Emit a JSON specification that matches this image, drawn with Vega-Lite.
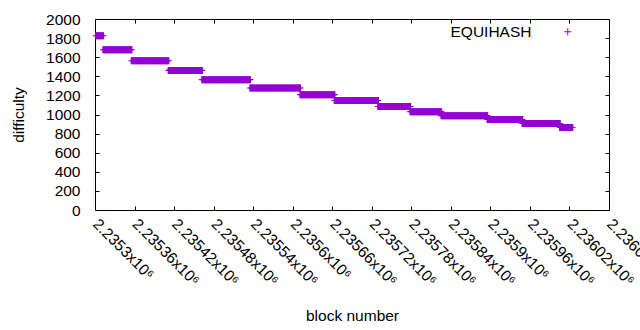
{
"$schema": "https://vega.github.io/schema/vega-lite/v6.json",
"width": 514, "height": 191,
"autosize": {"type": "none"},
"padding": {"left": 95, "top": 19, "right": 31, "bottom": 120},
"background": "white",
"config": {"view": {"stroke": null}, "font": "Liberation Sans"},
"datasets": {"pts": [
{"b":2235302,"d":1825},{"b":2235304,"d":1825},{"b":2235306,"d":1825},{"b":2235308,"d":1825},{"b":2235310,"d":1825},{"b":2235312,"d":1825},
{"b":2235313,"d":1678},{"b":2235315,"d":1678},{"b":2235317,"d":1678},{"b":2235319,"d":1678},{"b":2235321,"d":1678},{"b":2235323,"d":1678},{"b":2235325,"d":1678},{"b":2235327,"d":1678},{"b":2235329,"d":1678},{"b":2235331,"d":1678},{"b":2235333,"d":1678},{"b":2235335,"d":1678},{"b":2235337,"d":1678},{"b":2235339,"d":1678},{"b":2235341,"d":1678},{"b":2235343,"d":1678},{"b":2235345,"d":1678},{"b":2235347,"d":1678},{"b":2235349,"d":1678},{"b":2235351,"d":1678},{"b":2235353,"d":1678},{"b":2235355,"d":1678},
{"b":2235356,"d":1563},{"b":2235358,"d":1563},{"b":2235360,"d":1563},{"b":2235362,"d":1563},{"b":2235364,"d":1563},{"b":2235366,"d":1563},{"b":2235368,"d":1563},{"b":2235370,"d":1563},{"b":2235372,"d":1563},{"b":2235374,"d":1563},{"b":2235376,"d":1563},{"b":2235378,"d":1563},{"b":2235380,"d":1563},{"b":2235382,"d":1563},{"b":2235384,"d":1563},{"b":2235386,"d":1563},{"b":2235388,"d":1563},{"b":2235390,"d":1563},{"b":2235392,"d":1563},{"b":2235394,"d":1563},{"b":2235396,"d":1563},{"b":2235398,"d":1563},{"b":2235400,"d":1563},{"b":2235402,"d":1563},{"b":2235404,"d":1563},{"b":2235406,"d":1563},{"b":2235408,"d":1563},{"b":2235410,"d":1563},{"b":2235411,"d":1563},
{"b":2235412,"d":1462},{"b":2235414,"d":1462},{"b":2235416,"d":1462},{"b":2235418,"d":1462},{"b":2235420,"d":1462},{"b":2235422,"d":1462},{"b":2235424,"d":1462},{"b":2235426,"d":1462},{"b":2235428,"d":1462},{"b":2235430,"d":1462},{"b":2235432,"d":1462},{"b":2235434,"d":1462},{"b":2235436,"d":1462},{"b":2235438,"d":1462},{"b":2235440,"d":1462},{"b":2235442,"d":1462},{"b":2235444,"d":1462},{"b":2235446,"d":1462},{"b":2235448,"d":1462},{"b":2235450,"d":1462},{"b":2235452,"d":1462},{"b":2235454,"d":1462},{"b":2235456,"d":1462},{"b":2235458,"d":1462},{"b":2235460,"d":1462},{"b":2235462,"d":1462},
{"b":2235463,"d":1365},{"b":2235465,"d":1365},{"b":2235467,"d":1365},{"b":2235469,"d":1365},{"b":2235471,"d":1365},{"b":2235473,"d":1365},{"b":2235475,"d":1365},{"b":2235477,"d":1365},{"b":2235479,"d":1365},{"b":2235481,"d":1365},{"b":2235483,"d":1365},{"b":2235485,"d":1365},{"b":2235487,"d":1365},{"b":2235489,"d":1365},{"b":2235491,"d":1365},{"b":2235493,"d":1365},{"b":2235495,"d":1365},{"b":2235497,"d":1365},{"b":2235499,"d":1365},{"b":2235501,"d":1365},{"b":2235503,"d":1365},{"b":2235505,"d":1365},{"b":2235507,"d":1365},{"b":2235509,"d":1365},{"b":2235511,"d":1365},{"b":2235513,"d":1365},{"b":2235515,"d":1365},{"b":2235517,"d":1365},{"b":2235519,"d":1365},{"b":2235521,"d":1365},{"b":2235523,"d":1365},{"b":2235525,"d":1365},{"b":2235527,"d":1365},{"b":2235529,"d":1365},{"b":2235531,"d":1365},{"b":2235533,"d":1365},{"b":2235535,"d":1365},
{"b":2235536,"d":1278},{"b":2235538,"d":1278},{"b":2235540,"d":1278},{"b":2235542,"d":1278},{"b":2235544,"d":1278},{"b":2235546,"d":1278},{"b":2235548,"d":1278},{"b":2235550,"d":1278},{"b":2235552,"d":1278},{"b":2235554,"d":1278},{"b":2235556,"d":1278},{"b":2235558,"d":1278},{"b":2235560,"d":1278},{"b":2235562,"d":1278},{"b":2235564,"d":1278},{"b":2235566,"d":1278},{"b":2235568,"d":1278},{"b":2235570,"d":1278},{"b":2235572,"d":1278},{"b":2235574,"d":1278},{"b":2235576,"d":1278},{"b":2235578,"d":1278},{"b":2235580,"d":1278},{"b":2235582,"d":1278},{"b":2235584,"d":1278},{"b":2235586,"d":1278},{"b":2235588,"d":1278},{"b":2235590,"d":1278},{"b":2235592,"d":1278},{"b":2235594,"d":1278},{"b":2235596,"d":1278},{"b":2235598,"d":1278},{"b":2235600,"d":1278},{"b":2235602,"d":1278},{"b":2235604,"d":1278},{"b":2235606,"d":1278},{"b":2235608,"d":1278},{"b":2235610,"d":1278},{"b":2235611,"d":1278},
{"b":2235612,"d":1208},{"b":2235614,"d":1208},{"b":2235616,"d":1208},{"b":2235618,"d":1208},{"b":2235620,"d":1208},{"b":2235622,"d":1208},{"b":2235624,"d":1208},{"b":2235626,"d":1208},{"b":2235628,"d":1208},{"b":2235630,"d":1208},{"b":2235632,"d":1208},{"b":2235634,"d":1208},{"b":2235636,"d":1208},{"b":2235638,"d":1208},{"b":2235640,"d":1208},{"b":2235642,"d":1208},{"b":2235644,"d":1208},{"b":2235646,"d":1208},{"b":2235648,"d":1208},{"b":2235650,"d":1208},{"b":2235652,"d":1208},{"b":2235654,"d":1208},{"b":2235656,"d":1208},{"b":2235658,"d":1208},{"b":2235660,"d":1208},{"b":2235662,"d":1208},{"b":2235663,"d":1208},
{"b":2235664,"d":1146},{"b":2235666,"d":1146},{"b":2235668,"d":1146},{"b":2235670,"d":1146},{"b":2235672,"d":1146},{"b":2235674,"d":1146},{"b":2235676,"d":1146},{"b":2235678,"d":1146},{"b":2235680,"d":1146},{"b":2235682,"d":1146},{"b":2235684,"d":1146},{"b":2235686,"d":1146},{"b":2235688,"d":1146},{"b":2235690,"d":1146},{"b":2235692,"d":1146},{"b":2235694,"d":1146},{"b":2235696,"d":1146},{"b":2235698,"d":1146},{"b":2235700,"d":1146},{"b":2235702,"d":1146},{"b":2235704,"d":1146},{"b":2235706,"d":1146},{"b":2235708,"d":1146},{"b":2235710,"d":1146},{"b":2235712,"d":1146},{"b":2235714,"d":1146},{"b":2235716,"d":1146},{"b":2235718,"d":1146},{"b":2235720,"d":1146},{"b":2235722,"d":1146},{"b":2235724,"d":1146},{"b":2235726,"d":1146},{"b":2235728,"d":1146},{"b":2235729,"d":1146},
{"b":2235730,"d":1083},{"b":2235732,"d":1083},{"b":2235734,"d":1083},{"b":2235736,"d":1083},{"b":2235738,"d":1083},{"b":2235740,"d":1083},{"b":2235742,"d":1083},{"b":2235744,"d":1083},{"b":2235746,"d":1083},{"b":2235748,"d":1083},{"b":2235750,"d":1083},{"b":2235752,"d":1083},{"b":2235754,"d":1083},{"b":2235756,"d":1083},{"b":2235758,"d":1083},{"b":2235760,"d":1083},{"b":2235762,"d":1083},{"b":2235764,"d":1083},{"b":2235766,"d":1083},{"b":2235768,"d":1083},{"b":2235770,"d":1083},{"b":2235772,"d":1083},{"b":2235774,"d":1083},{"b":2235776,"d":1083},{"b":2235778,"d":1083},
{"b":2235779,"d":1030},{"b":2235781,"d":1030},{"b":2235783,"d":1030},{"b":2235785,"d":1030},{"b":2235787,"d":1030},{"b":2235789,"d":1030},{"b":2235791,"d":1030},{"b":2235793,"d":1030},{"b":2235795,"d":1030},{"b":2235797,"d":1030},{"b":2235799,"d":1030},{"b":2235801,"d":1030},{"b":2235803,"d":1030},{"b":2235805,"d":1030},{"b":2235807,"d":1030},{"b":2235809,"d":1030},{"b":2235811,"d":1030},{"b":2235813,"d":1030},{"b":2235815,"d":1030},{"b":2235817,"d":1030},{"b":2235819,"d":1030},{"b":2235821,"d":1030},{"b":2235823,"d":1030},{"b":2235825,"d":1030},
{"b":2235826,"d":988},{"b":2235828,"d":988},{"b":2235830,"d":988},{"b":2235832,"d":988},{"b":2235834,"d":988},{"b":2235836,"d":988},{"b":2235838,"d":988},{"b":2235840,"d":988},{"b":2235842,"d":988},{"b":2235844,"d":988},{"b":2235846,"d":988},{"b":2235848,"d":988},{"b":2235850,"d":988},{"b":2235852,"d":988},{"b":2235854,"d":988},{"b":2235856,"d":988},{"b":2235858,"d":988},{"b":2235860,"d":988},{"b":2235862,"d":988},{"b":2235864,"d":988},{"b":2235866,"d":988},{"b":2235868,"d":988},{"b":2235870,"d":988},{"b":2235872,"d":988},{"b":2235874,"d":988},{"b":2235876,"d":988},{"b":2235878,"d":988},{"b":2235880,"d":988},{"b":2235882,"d":988},{"b":2235884,"d":988},{"b":2235886,"d":988},{"b":2235888,"d":988},{"b":2235890,"d":988},{"b":2235892,"d":988},{"b":2235894,"d":988},{"b":2235895,"d":988},
{"b":2235896,"d":947},{"b":2235898,"d":947},{"b":2235900,"d":947},{"b":2235902,"d":947},{"b":2235904,"d":947},{"b":2235906,"d":947},{"b":2235908,"d":947},{"b":2235910,"d":947},{"b":2235912,"d":947},{"b":2235914,"d":947},{"b":2235916,"d":947},{"b":2235918,"d":947},{"b":2235920,"d":947},{"b":2235922,"d":947},{"b":2235924,"d":947},{"b":2235926,"d":947},{"b":2235928,"d":947},{"b":2235930,"d":947},{"b":2235932,"d":947},{"b":2235934,"d":947},{"b":2235936,"d":947},{"b":2235938,"d":947},{"b":2235940,"d":947},{"b":2235942,"d":947},{"b":2235944,"d":947},{"b":2235946,"d":947},{"b":2235948,"d":947},
{"b":2235949,"d":905},{"b":2235951,"d":905},{"b":2235953,"d":905},{"b":2235955,"d":905},{"b":2235957,"d":905},{"b":2235959,"d":905},{"b":2235961,"d":905},{"b":2235963,"d":905},{"b":2235965,"d":905},{"b":2235967,"d":905},{"b":2235969,"d":905},{"b":2235971,"d":905},{"b":2235973,"d":905},{"b":2235975,"d":905},{"b":2235977,"d":905},{"b":2235979,"d":905},{"b":2235981,"d":905},{"b":2235983,"d":905},{"b":2235985,"d":905},{"b":2235987,"d":905},{"b":2235989,"d":905},{"b":2235991,"d":905},{"b":2235993,"d":905},{"b":2235995,"d":905},{"b":2235997,"d":905},{"b":2235999,"d":905},{"b":2236001,"d":905},{"b":2236003,"d":905},{"b":2236005,"d":905},
{"b":2236006,"d":864},{"b":2236008,"d":864},{"b":2236010,"d":864},{"b":2236012,"d":864},{"b":2236014,"d":864},{"b":2236016,"d":864},{"b":2236018,"d":864},{"b":2236020,"d":864},{"b":2236022,"d":864},{"b":2236024,"d":864}
]},
"data": {"name": "pts"},
"layer": [
{
"mark": {"type": "point", "shape": "M-1,-0.15L-0.35,-0.15L-0.35,-1L0.35,-1L0.35,-0.15L1,-0.15L1,0.15L0.35,0.15L0.35,1L-0.35,1L-0.35,0.15L-1,0.15Z", "filled": true, "strokeWidth": 0, "size": 49, "opacity": 1},
"encoding": {
"x": {"field": "b", "type": "quantitative", "title": "block number",
"scale": {"domain": [2235300, 2236080], "nice": false, "zero": false},
"axis": {"values": [2235300,2235360,2235420,2235480,2235540,2235600,2235660,2235720,2235780,2235840,2235900,2235960,2236020,2236080],
"labelExpr": "format(datum.value/1e6, '.6~g') + 'x10⁶'",
"labelAngle": 45, "labelAlign": "left", "labelBaseline": "middle", "labelOverlap": false, "labelFlush": false, "labelBound": false,
"tickSize": -4, "labelPadding": 15, "grid": false,
"domainColor": "black", "tickColor": "black", "labelColor": "black", "labelFontSize": 15.5,
"titleFontSize": 15.5, "titleFontWeight": "normal", "titleColor": "black", "titleY": 110, "titleBaseline": "alphabetic"}},
"y": {"field": "d", "type": "quantitative", "title": "difficulty",
"scale": {"domain": [0, 2000], "nice": false},
"axis": {"values": [0,200,400,600,800,1000,1200,1400,1600,1800,2000], "format": "d",
"tickSize": -4, "labelPadding": 19, "grid": false, "labelFlush": false, "labelOverlap": false,
"domainColor": "black", "tickColor": "black", "labelColor": "black", "labelFontSize": 15.5,
"titleFontSize": 15.5, "titleFontWeight": "normal", "titleColor": "black", "titleX": -72, "titleY": 95.5, "titleAngle": -90, "titleAlign": "center", "titleBaseline": "alphabetic"}},
"color": {"datum": "EQUIHASH", "scale": {"range": ["#9400d3"]},
"legend": {"orient": "none", "legendX": 465, "legendY": 5, "title": null, "padding": 0,
"symbolType": "M-1,0L1,0M0,-1L0,1", "symbolSize": 49, "symbolStrokeWidth": 1, "symbolFillColor": "transparent", "symbolStrokeColor": "#9400d3", "symbolOpacity": 1,
"labelAlign": "right", "labelOffset": -44, "labelFontSize": 15.5, "labelColor": "black"}}
}
},
{
"mark": {"type": "point", "opacity": 0},
"encoding": {
"x": {"field": "b", "type": "quantitative",
"scale": {"domain": [2235300, 2236080], "nice": false, "zero": false},
"axis": {"orient": "top", "title": null, "labels": false, "grid": false, "tickSize": -4, "domainColor": "black", "tickColor": "black",
"values": [2235300,2235360,2235420,2235480,2235540,2235600,2235660,2235720,2235780,2235840,2235900,2235960,2236020,2236080]}},
"y": {"field": "d", "type": "quantitative",
"scale": {"domain": [0, 2000], "nice": false},
"axis": {"orient": "right", "title": null, "labels": false, "grid": false, "tickSize": -4, "domainColor": "black", "tickColor": "black",
"values": [0,200,400,600,800,1000,1200,1400,1600,1800,2000]}}
}
}
],
"resolve": {"axis": {"x": "independent", "y": "independent"}}
}
